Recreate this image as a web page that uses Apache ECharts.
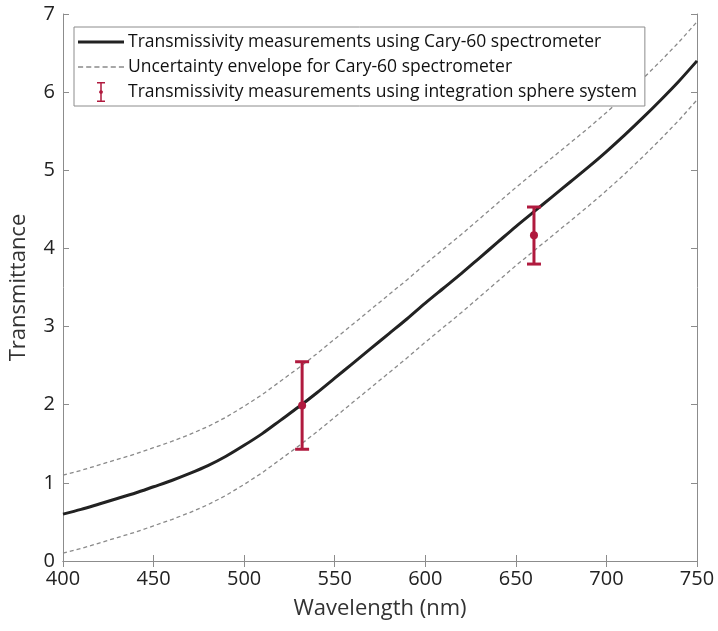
<!DOCTYPE html>
<html><head><meta charset="utf-8">
<script src="https://cdn.jsdelivr.net/npm/echarts@6/dist/echarts.min.js"></script>
<style>html,body{margin:0;padding:0;background:#fff}#c{width:718px;height:631px}</style>
</head><body><div id="c"></div>
<script>
const wavelengths = [400,410,420,430,440,450,460,470,480,490,500,510,520,530,540,550,560,570,580,590,600,610,620,630,640,650,660,670,680,690,700,710,720,730,740,750];
const caryValues = [0.60,0.66,0.73,0.80,0.87,0.95,1.03,1.12,1.22,1.34,1.48,1.63,1.80,1.97,2.15,2.34,2.53,2.72,2.91,3.10,3.30,3.49,3.68,3.88,4.08,4.28,4.47,4.66,4.85,5.04,5.24,5.45,5.67,5.90,6.14,6.40];
const upperEnvelope = [1.10,1.16,1.23,1.30,1.37,1.45,1.53,1.62,1.72,1.84,1.98,2.13,2.30,2.47,2.65,2.84,3.03,3.22,3.41,3.60,3.80,3.99,4.18,4.38,4.58,4.78,4.97,5.16,5.35,5.54,5.74,5.95,6.17,6.40,6.64,6.90];
const lowerEnvelope = [0.10,0.16,0.23,0.30,0.37,0.45,0.53,0.62,0.72,0.84,0.98,1.13,1.30,1.47,1.65,1.84,2.03,2.22,2.41,2.60,2.80,2.99,3.18,3.38,3.58,3.78,3.97,4.16,4.35,4.54,4.74,4.95,5.17,5.40,5.64,5.90];
const sphereWavelengths = [532, 660];
const sphereValues = [1.99, 4.17];
const sphereLow = [1.43, 3.80];
const sphereHigh = [2.55, 4.53];

const nameCary = 'Transmissivity measurements using Cary-60 spectrometer';
const nameEnv = 'Uncertainty envelope for Cary-60 spectrometer';
const nameSphere = 'Transmissivity measurements using integration sphere system';
const errColor = '#b01a3e';
const FONT = '"Open Sans"';

const zip = (xs, ys) => xs.map((x, i) => [x, ys[i]]);
const sphereData = sphereWavelengths.map((w, i) => [w, sphereValues[i], sphereLow[i], sphereHigh[i]]);

let dashPath = 'path://';
for (let i = 0; i < 6; i++) { const s = i * 8; dashPath += 'M' + s + ',0H' + (s + 5) + 'V1.4H' + s + 'Z'; }
const errIcon = 'path://M0,0H8V1.6H4.75V8.2A1.9,1.9 0 1 1 3.25,8.2V1.6H0Z M3.25,11.8A1.9,1.9 0 0 0 4.75,11.8V18.4H8V20H0V18.4H3.25Z';

const chart = echarts.init(document.getElementById('c'), null, {renderer: 'canvas'});
const axisCommon = {
  axisLine: {show: true, lineStyle: {color: '#8c8c8c', width: 1}},
  axisTick: {show: true, inside: true, length: 6, lineStyle: {color: '#8c8c8c'}},
  splitLine: {show: false}
};
chart.setOption({
  animation: false,
  textStyle: {fontFamily: FONT},
  grid: {left: 62, right: 21, top: 14, bottom: 70},
  xAxis: [
    Object.assign({type: 'value', min: 400, max: 750, interval: 50, position: 'bottom',
      name: 'Wavelength (nm)', nameLocation: 'middle', nameGap: 37,
      nameTextStyle: {fontSize: 22, color: '#333', fontFamily: FONT},
      axisLabel: {fontSize: 20, color: '#222', margin: 8, fontFamily: FONT}}, axisCommon),
    Object.assign({type: 'value', min: 400, max: 750, interval: 50, position: 'top',
      axisLabel: {show: false}}, axisCommon)
  ],
  yAxis: [
    Object.assign({type: 'value', min: 0, max: 7, interval: 1, position: 'left',
      name: 'Transmittance', nameLocation: 'middle', nameGap: 33,
      nameTextStyle: {fontSize: 22, color: '#333', fontFamily: FONT},
      axisLabel: {fontSize: 20, color: '#222', margin: 8, fontFamily: FONT}}, axisCommon),
    Object.assign({type: 'value', min: 0, max: 7, interval: 1, position: 'right',
      axisLabel: {show: false}}, axisCommon)
  ],
  legend: {
    orient: 'vertical', left: 74, top: 27,
    backgroundColor: '#fff', borderColor: '#8c8c8c', borderWidth: 1,
    padding: [4, 8, 3, 4], itemGap: 3, itemWidth: 46, itemHeight: 20,
    textStyle: {fontSize: 17.5, color: '#111', fontFamily: FONT, padding: [0, 0, 0, -1], lineHeight: 22},
    data: [
      {name: nameCary, icon: 'path://M0,0H46V3H0Z'},
      {name: nameEnv, icon: dashPath},
      {name: nameSphere, icon: errIcon}
    ]
  },
  series: [
    {name: nameEnv, type: 'line', data: zip(wavelengths, upperEnvelope), showSymbol: false, symbol: 'none',
      lineStyle: {color: '#8a8a8a', width: 1.3, type: [4, 3]}, itemStyle: {color: '#8a8a8a'}, z: 2},
    {name: nameEnv, type: 'line', data: zip(wavelengths, lowerEnvelope), showSymbol: false, symbol: 'none',
      lineStyle: {color: '#8a8a8a', width: 1.3, type: [4, 3]}, itemStyle: {color: '#8a8a8a'}, z: 2},
    {name: nameCary, type: 'line', data: zip(wavelengths, caryValues), showSymbol: false, symbol: 'none',
      smooth: 0.3, lineStyle: {color: '#222', width: 3}, itemStyle: {color: '#222'}, z: 3},
    {name: nameSphere, type: 'custom', data: sphereData, z: 5,
      itemStyle: {color: errColor},
      encode: {x: 0, y: [1, 2, 3]},
      renderItem: function (params, api) {
        const x = api.value(0);
        const c = api.coord([x, api.value(1)]);
        const lo = api.coord([x, api.value(2)]);
        const hi = api.coord([x, api.value(3)]);
        const hw = 7;
        const st = {stroke: errColor, lineWidth: 3};
        return {type: 'group', children: [
          {type: 'line', shape: {x1: c[0], y1: lo[1], x2: c[0], y2: hi[1]}, style: st},
          {type: 'line', shape: {x1: c[0] - hw, y1: lo[1], x2: c[0] + hw, y2: lo[1]}, style: st},
          {type: 'line', shape: {x1: c[0] - hw, y1: hi[1], x2: c[0] + hw, y2: hi[1]}, style: st},
          {type: 'circle', shape: {cx: c[0], cy: c[1], r: 4}, style: {fill: errColor}}
        ]};
      }}
  ]
});
</script></body></html>
